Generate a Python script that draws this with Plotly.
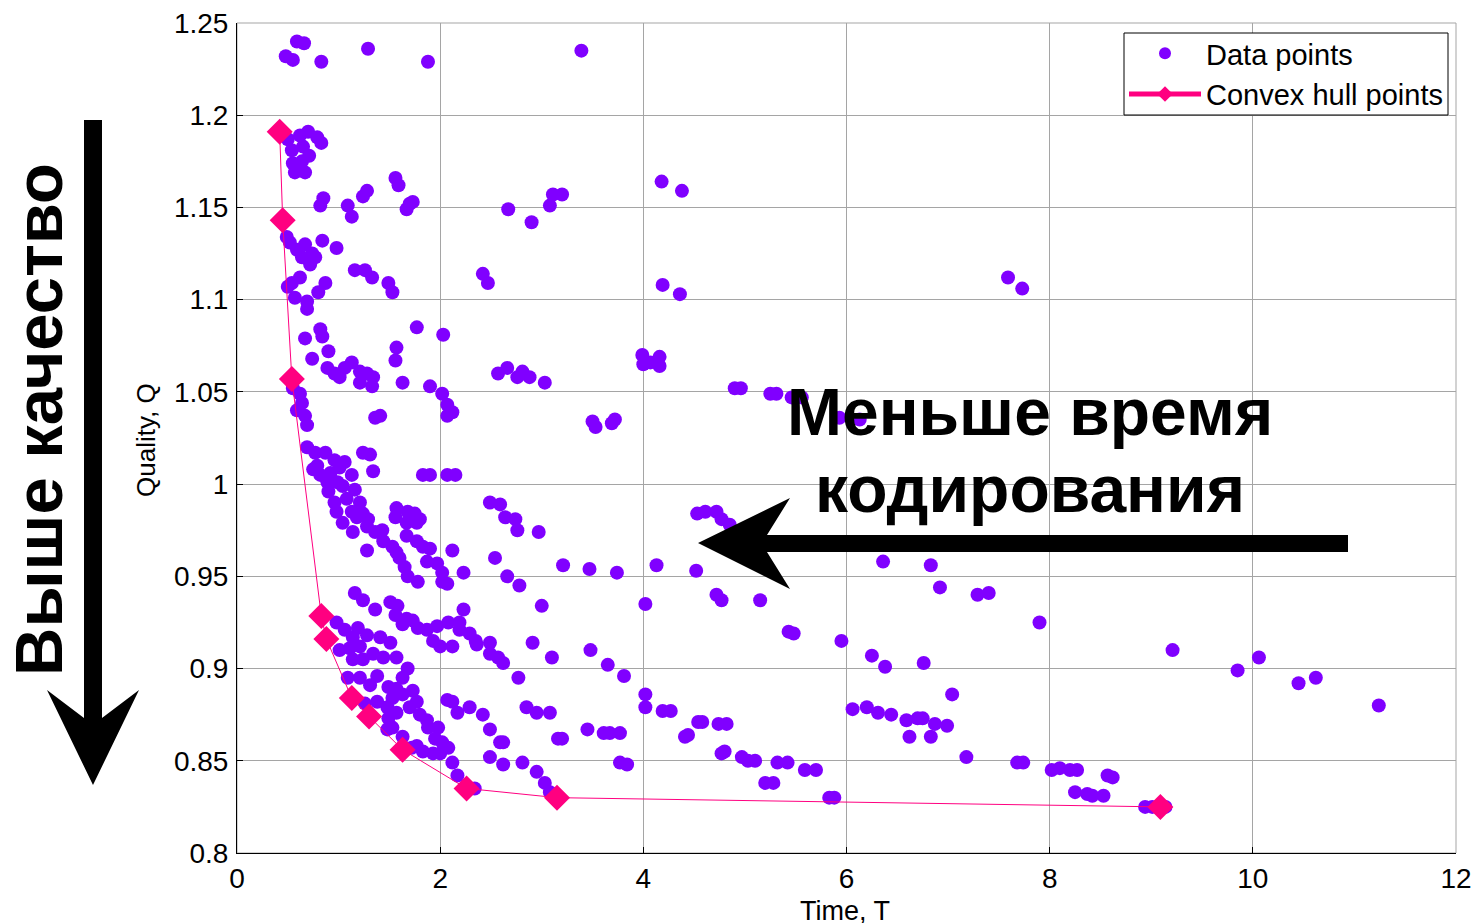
import plotly.graph_objects as go

# ---------------- data ----------------
time_T = [
    0.59, 0.66, 0.48, 0.55, 0.83, 1.29, 1.88, 3.39,
    0.50, 0.62, 0.70, 0.79, 0.83, 0.54, 0.65, 0.71, 0.55, 0.64, 0.57, 0.67, 0.60,
    0.85, 0.82, 1.09, 1.13, 1.28, 1.24, 1.56, 1.59, 1.70, 1.67, 1.73,
    2.67, 2.90, 3.08, 3.11, 3.20, 4.18, 4.38,
    0.49, 0.52, 0.59, 0.67, 0.74, 0.77, 0.64, 0.72, 0.84, 0.98, 0.54, 0.62, 0.57, 0.69, 0.69, 0.80, 0.87, 0.50,
    1.16, 1.26, 1.33, 1.49, 1.53, 2.42, 2.47, 4.19, 4.36, 7.59, 7.73,
    0.82, 0.67, 0.84, 0.74, 0.90, 0.89, 0.96, 1.01, 1.13, 1.21, 1.28, 1.21, 1.34, 1.33, 1.06,
    1.57, 1.56, 1.63, 1.77, 2.03, 1.90, 2.02, 2.07, 2.07, 2.12,
    2.57, 2.66, 2.76, 2.81, 2.88, 3.03,
    0.55, 0.62, 0.64, 0.67, 0.59, 0.69, 1.36, 1.41,
    3.50, 3.53, 3.69, 3.72, 3.99, 4.16, 4.00, 4.16, 4.07,
    4.90, 4.96, 5.25, 5.31, 5.46, 5.56, 5.93, 6.13,
    0.69, 0.77, 0.87, 0.96, 1.06, 0.79, 0.75, 0.82, 0.92, 1.01, 1.13, 0.89, 0.99, 0.90, 1.04, 1.16,
    0.96, 1.08, 1.21, 0.98, 1.13, 1.24, 1.04, 1.18, 1.29, 1.14, 1.28, 1.36, 1.43, 1.44, 1.53, 1.57,
    1.60, 1.65, 1.68, 1.78, 1.28, 1.24, 1.31, 1.34, 1.83, 1.90, 2.07, 2.15,
    1.57, 1.56, 1.68, 1.75, 1.67, 1.77, 1.80, 1.67, 1.77, 1.83, 1.90, 1.87, 1.97, 2.02, 2.07, 2.02, 2.12, 2.23,
    2.49, 2.59, 2.64, 2.74, 2.76, 2.97, 2.54, 2.66, 2.78, 3.00, 3.21, 3.47, 3.74,
    4.53, 4.61, 4.72, 4.77, 4.85, 4.13, 4.52, 6.36, 6.83, 6.92, 7.29, 7.40, 4.72, 4.77, 5.15, 4.02,
    1.16, 1.24, 1.36, 1.51, 1.58, 1.56, 1.67, 1.73, 1.63, 1.78, 1.87, 1.97, 2.08, 2.23, 1.93, 2.00,
    2.12, 2.19, 2.19, 2.29, 2.35, 2.36, 2.49, 2.49, 2.57, 2.62, 2.91, 3.10, 3.48, 3.65, 3.81, 2.77,
    5.43, 5.48, 5.95, 6.25, 6.38, 6.76, 7.90, 7.04,
    9.21, 9.85, 10.06, 10.45, 10.62, 11.24,
    0.98, 1.06, 1.19, 1.28, 1.14, 1.01, 1.11, 1.21, 1.34, 1.41, 1.51, 1.14, 1.24, 1.44, 1.57, 1.68,
    1.09, 1.21, 1.38, 1.49, 1.63, 1.31, 1.73, 1.63, 1.57, 1.53, 1.38, 1.26, 1.77, 1.70, 1.48, 1.57,
    1.49, 1.53, 1.48, 1.80, 1.87, 1.88, 1.98, 1.95, 1.63, 1.72, 1.77, 1.83, 1.93, 2.02, 2.08, 2.00,
    2.12, 2.17, 2.34,
    2.07, 2.12, 2.17, 2.29, 2.42, 2.49, 2.59, 2.62, 2.49, 2.62, 2.81, 2.95, 3.03, 3.08, 3.17,
    2.85, 2.95, 3.08, 3.16, 3.20, 3.45, 3.61, 3.67, 3.77, 3.77, 3.84,
    4.02, 4.02, 4.19, 4.27, 4.54, 4.58, 4.74, 4.82, 4.41, 4.44, 4.77, 4.80, 4.97, 5.03, 5.10, 5.32,
    5.42, 5.59, 5.70, 5.20, 5.28, 5.83, 5.88,
    6.06, 6.20, 6.31, 6.44, 6.59, 6.70, 6.75, 6.87, 6.99, 6.62, 6.83, 7.18, 7.68, 7.74, 8.02, 8.10,
    8.20, 8.27, 8.25, 8.37, 8.42, 8.53, 8.57, 8.62, 8.94, 9.01, 9.14,
]
quality_Q = [
    1.240, 1.239, 1.232, 1.230, 1.229, 1.236, 1.229, 1.235,
    1.187, 1.189, 1.191, 1.188, 1.185, 1.181, 1.183, 1.178, 1.174, 1.175, 1.169, 1.169, 1.171,
    1.155, 1.151, 1.151, 1.145, 1.159, 1.156, 1.166, 1.162, 1.152, 1.149, 1.153,
    1.149, 1.142, 1.151, 1.157, 1.157, 1.164, 1.159,
    1.134, 1.131, 1.127, 1.130, 1.125, 1.123, 1.123, 1.119, 1.132, 1.128, 1.109, 1.112, 1.101, 1.099, 1.095, 1.104, 1.109, 1.107,
    1.116, 1.116, 1.112, 1.109, 1.104, 1.114, 1.109, 1.108, 1.103, 1.112, 1.106,
    1.084, 1.079, 1.080, 1.068, 1.072, 1.063, 1.060, 1.058, 1.066, 1.061, 1.060, 1.055, 1.058, 1.053, 1.063,
    1.074, 1.067, 1.055, 1.085, 1.081, 1.053, 1.049, 1.043, 1.037, 1.039,
    1.060, 1.063, 1.058, 1.061, 1.058, 1.055,
    1.052, 1.049, 1.044, 1.037, 1.040, 1.032, 1.036, 1.037,
    1.034, 1.031, 1.033, 1.035, 1.070, 1.069, 1.065, 1.064, 1.066,
    1.052, 1.052, 1.049, 1.049, 1.047, 1.047, 1.036, 1.035,
    1.020, 1.017, 1.017, 1.013, 1.012, 1.010, 1.008, 1.005, 1.006, 1.009, 1.005, 1.001, 1.001, 0.996, 0.999, 0.997,
    0.990, 0.992, 0.990, 0.985, 0.985, 0.984, 0.979, 0.982, 0.981, 0.974, 0.977, 0.974, 0.975, 0.969, 0.966, 0.963,
    0.960, 0.955, 0.950, 0.947, 0.964, 1.017, 1.016, 1.007, 1.005, 1.005, 1.005, 1.005,
    0.987, 0.982, 0.985, 0.984, 0.979, 0.979, 0.981, 0.972, 0.969, 0.966, 0.965, 0.958, 0.957, 0.952, 0.946, 0.947, 0.964, 0.952,
    0.990, 0.989, 0.982, 0.981, 0.975, 0.974, 0.960, 0.950, 0.945, 0.934, 0.956, 0.954, 0.952,
    0.984, 0.985, 0.985, 0.981, 0.978, 0.956, 0.953, 0.958, 0.956, 0.944, 0.940, 0.941, 0.940, 0.937, 0.937, 0.935,
    0.941, 0.937, 0.932, 0.936, 0.934, 0.929, 0.927, 0.926, 0.924, 0.922, 0.921, 0.923, 0.925, 0.932, 0.915, 0.912,
    0.912, 0.925, 0.921, 0.919, 0.915, 0.913, 0.914, 0.908, 0.906, 0.903, 0.914, 0.906, 0.910, 0.902, 0.896, 0.895,
    0.920, 0.919, 0.915, 0.907, 0.901, 0.903, 0.925, 0.886,
    0.910, 0.899, 0.906, 0.892, 0.895, 0.880,
    0.925, 0.921, 0.922, 0.918, 0.917, 0.910, 0.911, 0.912, 0.908, 0.917, 0.914, 0.905, 0.905, 0.906, 0.906, 0.900,
    0.895, 0.895, 0.896, 0.890, 0.895, 0.891, 0.888, 0.886, 0.889, 0.884, 0.882, 0.881, 0.882, 0.879, 0.879, 0.876,
    0.873, 0.868, 0.867, 0.875, 0.872, 0.868, 0.868, 0.862, 0.863, 0.857, 0.858, 0.855, 0.854, 0.860, 0.857, 0.854,
    0.849, 0.842, 0.835,
    0.883, 0.882, 0.876, 0.879, 0.875, 0.867, 0.860, 0.860, 0.852, 0.848, 0.849, 0.844, 0.838, 0.833, 0.830,
    0.879, 0.876, 0.876, 0.862, 0.862, 0.867, 0.865, 0.865, 0.865, 0.849, 0.848,
    0.886, 0.879, 0.877, 0.877, 0.871, 0.871, 0.870, 0.870, 0.863, 0.864, 0.854, 0.855, 0.852, 0.850, 0.850, 0.849,
    0.849, 0.845, 0.845, 0.838, 0.838, 0.830, 0.830,
    0.878, 0.879, 0.876, 0.875, 0.872, 0.873, 0.873, 0.870, 0.869, 0.863, 0.863, 0.852, 0.849, 0.849, 0.845, 0.846,
    0.845, 0.845, 0.833, 0.832, 0.831, 0.831, 0.842, 0.841, 0.825, 0.825, 0.825,
]

hull_T = [0.42, 0.45, 0.54, 0.83, 0.88, 1.13, 1.30, 1.63, 2.26, 3.15, 9.09]
hull_Q = [1.191, 1.143, 1.057, 0.9285, 0.916, 0.884, 0.874, 0.856, 0.835, 0.830, 0.825]

x_ticks = [0, 2, 4, 6, 8, 10, 12]
y_ticks = [0.8, 0.85, 0.9, 0.95, 1.0, 1.05, 1.1, 1.15, 1.2, 1.25]
y_tick_text = ["0.8", "0.85", "0.9", "0.95", "1", "1.05", "1.1", "1.15", "1.2", "1.25"]

# ---------------- layout geometry (screen pixels) ----------------
SW, SH = 1474, 923           # screen / figure size (page margin removed below)
L, R, T, B = 237, 1456, 23, 853
W, H = SW, SH


def px(x, y):
    return (x - L) / (R - L), (B - y) / (B - T)


def poly(points):
    parts = []
    for i, (x, y) in enumerate(points):
        a, b = px(x, y)
        parts.append(("M" if i == 0 else "L") + f"{a:.5f},{b:.5f}")
    return " ".join(parts) + " Z"


FONT = "Liberation Sans, Arial, sans-serif"
PURPLE = "rgb(128,0,255)"
PINK = "rgb(255,0,128)"
GRID = "rgb(165,165,165)"

fig = go.Figure()
fig.add_trace(go.Scatter(
    x=time_T, y=quality_Q, mode="markers", name="Data points",
    marker=dict(color=PURPLE, size=14, line=dict(width=0)),
))
fig.add_trace(go.Scatter(
    x=hull_T, y=hull_Q, mode="lines+markers", name="Convex hull points",
    line=dict(color=PINK, width=1),
    marker=dict(color=PINK, size=20, symbol="diamond", line=dict(width=0)),
))

axis_common = dict(
    showgrid=True, gridcolor=GRID, gridwidth=1, zeroline=False,
    showline=True, linecolor="black", linewidth=1, mirror=False,
    ticks="inside", ticklen=6, tickcolor="black", tickwidth=1,
    tickfont=dict(family=FONT, size=28, color="black"),
    automargin=False, ticklabeloverflow="allow",
)

fig.update_layout(
    width=W, height=H,
    margin=dict(l=L, r=SW - R, t=T, b=SH - B, pad=0, autoexpand=False),
    paper_bgcolor="white", plot_bgcolor="white",
    showlegend=True,
    legend=dict(
        x=px(1448, 0)[0], y=px(0, 28)[1], xanchor="right", yanchor="top",
        bgcolor="rgba(0,0,0,0)", borderwidth=0,
        font=dict(family=FONT, size=29, color="black"),
        itemsizing="constant", itemwidth=72, tracegroupgap=0,
    ),
    xaxis=dict(range=[0, 12], tickvals=x_ticks, ticklabelstandoff=0, **axis_common),
    yaxis=dict(range=[0.8, 1.25], tickvals=y_ticks, ticktext=y_tick_text,
               ticklabelstandoff=2, **axis_common),
)

# gray frame (top / right)
fig.add_shape(type="rect", xref="paper", yref="paper", x0=0, y0=0, x1=1, y1=1,
              line=dict(color=GRID, width=1), layer="below")

# legend box
lx0, ly0 = px(1124, 115)
lx1, ly1 = px(1448, 33)
fig.add_shape(type="rect", xref="paper", yref="paper", x0=lx0, y0=ly0, x1=lx1, y1=ly1,
              line=dict(color="black", width=1), fillcolor="white", layer="above")

# horizontal arrow
fig.add_shape(type="path", xref="paper", yref="paper",
              path=poly([(1348, 535), (767, 535), (790, 498), (698, 543),
                         (790, 589), (767, 552), (1348, 552)]),
              fillcolor="black", line=dict(width=0), layer="above")
# vertical arrow
fig.add_shape(type="path", xref="paper", yref="paper",
              path=poly([(84, 120), (102, 120), (102, 718), (139, 690), (93, 785),
                         (47, 690), (84, 718)]),
              fillcolor="black", line=dict(width=0), layer="above")

BOLD = "Liberation Sans, Arial, sans-serif"
fig.add_annotation(xref="paper", yref="paper", x=px(1030, 0)[0], y=px(0, 412)[1],
                   text="<b>Меньше время</b>", showarrow=False,
                   xanchor="center", yanchor="middle",
                   font=dict(family=BOLD, size=66, color="black"))
fig.add_annotation(xref="paper", yref="paper", x=px(1030, 0)[0], y=px(0, 489)[1],
                   text="<b>кодирования</b>", showarrow=False,
                   xanchor="center", yanchor="middle",
                   font=dict(family=BOLD, size=66, color="black"))
fig.add_annotation(xref="paper", yref="paper", x=px(38, 0)[0], y=px(0, 420)[1],
                   text="<b>Выше качество</b>", showarrow=False, textangle=-90,
                   xanchor="center", yanchor="middle",
                   font=dict(family=BOLD, size=67, color="black"))

# axis titles
fig.add_annotation(xref="paper", yref="paper", x=px(146, 0)[0], y=px(0, 440)[1],
                   text="Quality, Q", showarrow=False, textangle=-90,
                   xanchor="center", yanchor="middle",
                   font=dict(family=FONT, size=26, color="black"))
fig.add_annotation(xref="paper", yref="paper", x=px(845, 0)[0], y=px(0, 911)[1],
                   text="Time, T", showarrow=False,
                   xanchor="center", yanchor="middle",
                   font=dict(family=FONT, size=27, color="black"))

fig.write_html(
    "out.html",
    config={"displayModeBar": False},
    post_script="document.body.style.margin='0px';"
                "document.documentElement.style.overflow='hidden';",
)
